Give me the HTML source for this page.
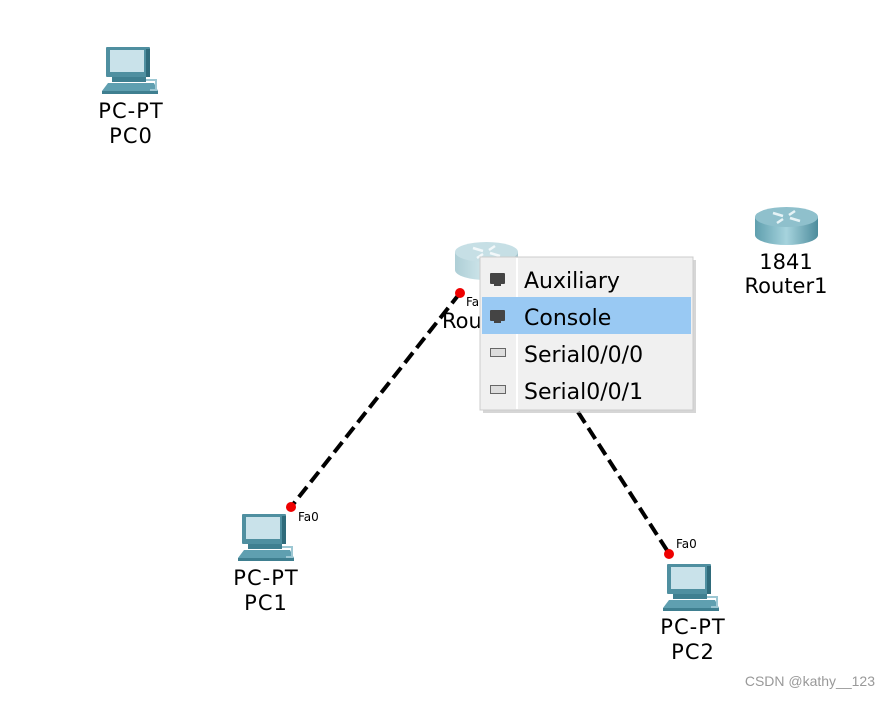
<!DOCTYPE html>
<html><head><meta charset="utf-8"><style>
body{margin:0;background:#fff;width:889px;height:698px;overflow:hidden;font-family:"DejaVu Sans","Liberation Sans",sans-serif}
</style></head><body>
<svg width="889" height="698" viewBox="0 0 889 698" xmlns="http://www.w3.org/2000/svg">
<defs>
<linearGradient id="rg" x1="0" x2="1"><stop offset="0" stop-color="#5f9fae"/><stop offset="0.5" stop-color="#a6d3dd"/><stop offset="1" stop-color="#4d8c9c"/></linearGradient>
<g id="pc">
<rect x="0" y="0" width="44" height="30" fill="#4f8fa0" rx="1"/>
<rect x="4" y="3" width="34" height="22" fill="#c9e2ea"/>
<rect x="40" y="2" width="4" height="28" fill="#2f6b7b"/>
<rect x="6" y="30" width="34" height="5" fill="#3f7f90"/>
<polygon points="-4,44 2,36 48,36 52,44" fill="#5f9fb0"/>
<rect x="-4" y="44" width="56" height="3" fill="#3f7f90"/>
<path d="M40,33 h10 v10 h-6" fill="none" stroke="#9cc7d3" stroke-width="2"/>
</g>
<g id="rt">
<rect x="0" y="12" width="63" height="18" fill="url(#rg)"/>
<ellipse cx="31.5" cy="30" rx="31.5" ry="10" fill="url(#rg)"/>
<ellipse cx="31.5" cy="12" rx="31.5" ry="10" fill="#8fc0cc"/>
<g stroke="#e6f3f6" stroke-width="2.5" fill="none"><path d="M18,8 l10,3 M45,16 l-10,-3 M40,6 l-6,4 M22,18 l6,-4"/></g>
</g>
</defs>
<g stroke="#000" stroke-width="4" stroke-dasharray="13,6">
<line x1="460" y1="293" x2="291" y2="507"/>
<line x1="578" y1="412" x2="670" y2="555"/>
</g>
<circle cx="460" cy="293" r="5" fill="#e00"/>
<circle cx="291" cy="507" r="5" fill="#e00"/>
<circle cx="669" cy="554" r="5" fill="#e00"/>
<use href="#pc" x="106" y="47"/>
<use href="#pc" x="242" y="514"/>
<use href="#pc" x="667" y="564"/>
<use href="#rt" x="755" y="205"/>
<g opacity="0.5"><use href="#rt" x="455" y="240"/></g>
<g font-size="21" fill="#000" text-anchor="middle" letter-spacing="1">
<text x="131" y="118">PC-PT</text><text x="131" y="143">PC0</text>
<text x="266" y="585">PC-PT</text><text x="266" y="610">PC1</text>
<text x="693" y="634">PC-PT</text><text x="693" y="659">PC2</text>
<text x="786" y="269" letter-spacing="0">1841</text><text x="786" y="293" letter-spacing="0">Router1</text>
</g>
<text x="442" y="328" font-size="21">Rou</text>
<g font-size="12" fill="#000">
<text x="466" y="306">Fa</text>
<text x="298" y="521">Fa0</text>
<text x="676" y="548">Fa0</text>
</g>
<text x="875" y="686" font-size="14" fill="#999" text-anchor="end" font-family="Liberation Sans, sans-serif">CSDN @kathy__123</text>
<rect x="483" y="260" width="213" height="153" fill="#bbb" opacity="0.6"/>
<rect x="480" y="257" width="213" height="153" fill="#f0f0f0" stroke="#ccc"/>
<line x1="517" y1="258" x2="517" y2="409" stroke="#fff" stroke-width="2"/>
<rect x="482" y="297" width="209" height="37" fill="#99c9f3"/>
<g fill="#444">
<rect x="490" y="273" width="15" height="11" rx="1"/><rect x="494" y="284" width="7" height="2"/>
<rect x="490" y="310" width="15" height="11" rx="1"/><rect x="494" y="321" width="7" height="2"/>
</g>
<g fill="#ddd" stroke="#666"><rect x="490.5" y="348.5" width="15" height="8"/><rect x="490.5" y="385.5" width="15" height="8"/></g>
<g font-size="22" fill="#000">
<text x="524" y="288">Auxiliary</text>
<text x="524" y="325">Console</text>
<text x="524" y="362">Serial0/0/0</text>
<text x="524" y="399">Serial0/0/1</text>
</g>
</svg>
</body></html>
